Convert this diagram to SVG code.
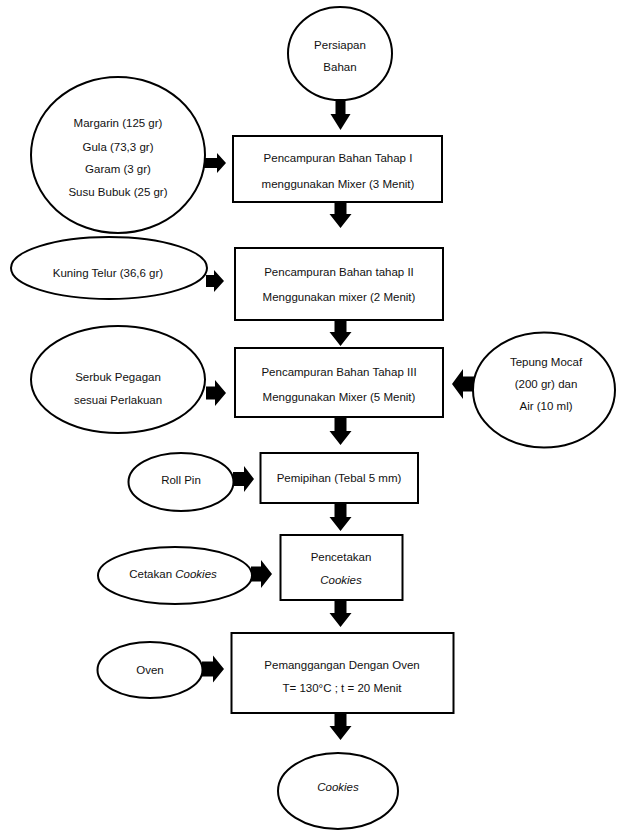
<svg xmlns="http://www.w3.org/2000/svg" width="617" height="832" viewBox="0 0 617 832">
<style>
.shape{fill:#fff;stroke:#000;stroke-width:2}
.arrow{fill:#000;stroke:none}
text{font-family:"Liberation Sans",Arial,sans-serif;font-size:11.5px;fill:#111;text-anchor:middle}
.it{font-style:italic}
</style>
<rect width="617" height="832" fill="#fff"/>
<g id="connectors">
<polygon class="arrow" points="335.5,97 345.5,97 345.5,114 350.5,114 340.5,130 330.5,114 335.5,114"/>
<polygon class="arrow" points="334.5,203 346.5,203 346.5,214 351.5,214 340.5,228 329.5,214 334.5,214"/>
<polygon class="arrow" points="334.5,321 346.5,321 346.5,332 351.5,332 340.5,346 329.5,332 334.5,332"/>
<polygon class="arrow" points="334.5,418 346.5,418 346.5,431 351.5,431 340.5,445 329.5,431 334.5,431"/>
<polygon class="arrow" points="334.5,504 346.5,504 346.5,517 351.5,517 340.5,531 329.5,517 334.5,517"/>
<polygon class="arrow" points="334.5,601 346.5,601 346.5,613 351.5,613 340.5,627 329.5,613 334.5,613"/>
<polygon class="arrow" points="334.5,714 346.5,714 346.5,726 351.5,726 340.5,740 329.5,726 334.5,726"/>
<polygon class="arrow" points="204,158 217,158 217,153 226,163 217,173 217,168 204,168"/>
<polygon class="arrow" points="206,275 214,275 214,270 224,281 214,292 214,287 206,287"/>
<polygon class="arrow" points="206,386.5 215,386.5 215,380 226,393 215,406 215,399.5 206,399.5"/>
<polygon class="arrow" points="476,376.5 463,376.5 463,369 452,384 463,399 463,391.5 476,391.5"/>
<polygon class="arrow" points="233,472 244,472 244,466 254,479 244,492 244,486 233,486"/>
<polygon class="arrow" points="251,566.5 261,566.5 261,560 272,574 261,588 261,581.5 251,581.5"/>
<polygon class="arrow" points="202,661.5 213,661.5 213,655.5 224,669 213,682.5 213,676.5 202,676.5"/>
</g>
<g id="persiapan">
<ellipse class="shape" cx="340" cy="53.5" rx="52" ry="46.5"/>
<text x="340" y="49">Persiapan</text>
<text x="340" y="71">Bahan</text>
</g>
<g id="margarin">
<ellipse class="shape" cx="118" cy="155" rx="87" ry="78"/>
<text x="118" y="127">Margarin (125 gr)</text>
<text x="118" y="151">Gula (73,3 gr)</text>
<text x="118" y="173">Garam (3 gr)</text>
<text x="118" y="196">Susu Bubuk (25 gr)</text>
</g>
<g id="tahap1">
<rect class="shape" x="233" y="136" width="209" height="66"/>
<text x="338" y="162">Pencampuran Bahan Tahap I</text>
<text x="338" y="188">menggunakan Mixer (3 Menit)</text>
</g>
<g id="kuning">
<ellipse class="shape" cx="109" cy="268" rx="98" ry="31"/>
<text x="108" y="277">Kuning Telur (36,6 gr)</text>
</g>
<g id="tahap2">
<rect class="shape" x="235" y="248" width="208" height="72"/>
<text x="339" y="276">Pencampuran Bahan tahap II</text>
<text x="339" y="301">Menggunakan mixer (2 Menit)</text>
</g>
<g id="serbuk">
<ellipse class="shape" cx="118" cy="379.5" rx="87" ry="53.5"/>
<text x="118" y="381">Serbuk Pegagan</text>
<text x="118" y="404">sesuai Perlakuan</text>
</g>
<g id="tahap3">
<rect class="shape" x="235" y="348" width="208" height="69"/>
<text x="339" y="376">Pencampuran Bahan Tahap III</text>
<text x="339" y="401">Menggunakan Mixer (5 Menit)</text>
</g>
<g id="tepung">
<ellipse class="shape" cx="544" cy="390" rx="71" ry="57.5"/>
<text x="546" y="366">Tepung Mocaf</text>
<text x="546" y="388">(200 gr) dan</text>
<text x="546" y="410">Air (10 ml)</text>
</g>
<g id="rollpin">
<ellipse class="shape" cx="181" cy="482" rx="52.5" ry="29"/>
<text x="181" y="484">Roll Pin</text>
</g>
<g id="pemipihan">
<rect class="shape" x="260.5" y="453" width="157.5" height="50"/>
<text x="339" y="482">Pemipihan (Tebal 5 mm)</text>
</g>
<g id="cetakan">
<ellipse class="shape" cx="175" cy="575.5" rx="77" ry="28.5"/>
<text x="173" y="578">Cetakan <tspan class="it">Cookies</tspan></text>
</g>
<g id="pencetakan">
<rect class="shape" x="280.5" y="535" width="122" height="65"/>
<text x="341" y="561">Pencetakan</text>
<text x="341" y="584" class="it">Cookies</text>
</g>
<g id="oven">
<ellipse class="shape" cx="150" cy="670" rx="52.5" ry="28"/>
<text x="150" y="674">Oven</text>
</g>
<g id="pemanggangan">
<rect class="shape" x="231.5" y="633" width="222" height="80"/>
<text x="342" y="669">Pemanggangan Dengan Oven</text>
<text x="342" y="692">T= 130°C ; t = 20 Menit</text>
</g>
<g id="cookies">
<ellipse class="shape" cx="338" cy="791" rx="60" ry="38"/>
<text x="338" y="791" class="it">Cookies</text>
</g>
</svg>
